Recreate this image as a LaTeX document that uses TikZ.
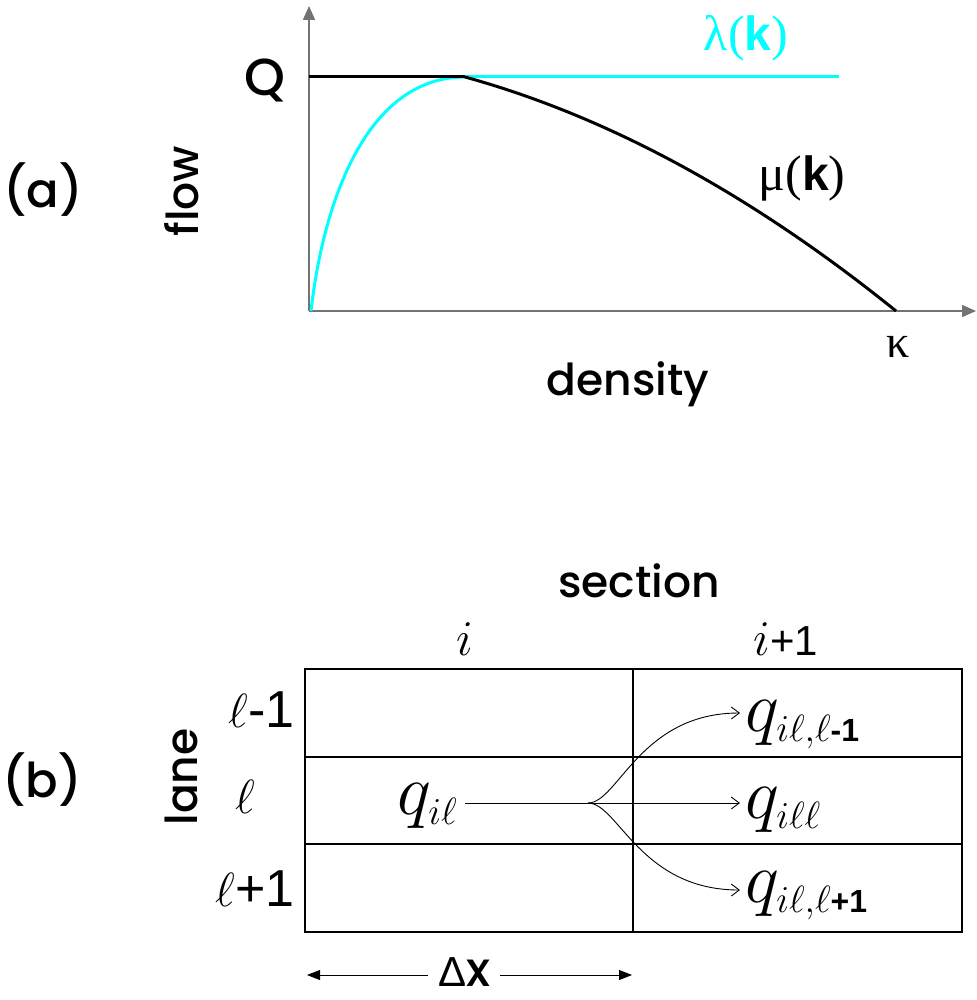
\RequirePackage{fix-cm}
\documentclass[tikz,border=0pt]{standalone}
\usepackage{fontspec}
\setmainfont{Poppins}[UprightFont={* Medium}]
\newfontfamily\arialf{Liberation Sans}
\newfontfamily\timesf{Liberation Serif}
\usetikzlibrary{arrows.meta}
\definecolor{cyanl}{RGB}{0,255,255}
\newcommand{\fs}[1]{\fontsize{#1}{#1}\selectfont}
\newcommand{\sub}[1]{\mbox{\fs{38}$#1$}}
\begin{document}
\begin{tikzpicture}[x=1pt,y=-1pt,
  word/.style={font=\fs{44}, inner sep=0pt},
  axisline/.style={draw=black!55, line width=1.6pt, -{Triangle[length=14pt,width=12pt]}},
  curveblack/.style={draw=black, line width=3pt},
  curvecyan/.style={draw=cyanl, line width=3pt},
  gridline/.style={draw=black, line width=1.3pt},
  flowarrow/.style={draw=black, line width=0.9pt, -{Straight Barb[length=8pt,width=12pt]}},
  dimarrow/.style={draw=black, line width=0.9pt, -{Triangle[length=13pt,width=10pt]}},
  qlabel/.style={inner sep=0pt, anchor=base west}]
\useasboundingbox (0,0) rectangle (976,1000);

% ---------- panel (a) ----------
\coordinate (O) at (309,311);
\coordinate (ytop) at (309,6);
\coordinate (xend) at (976,311);
\coordinate (peak) at (465,77);
\coordinate (qstart) at (309,77);
\coordinate (lamend) at (839,77);
\coordinate (kap) at (896,311);
\coordinate (lamstart) at (311,311);

\draw[axisline] (O) -- (ytop);
\draw[axisline] (O) -- (xend);
\draw[curvecyan] (peak) -- (lamend);
\draw[curvecyan] (lamstart) .. controls (323,205) and (365,77) .. (peak);
\draw[curveblack] (qstart) -- (peak);
\draw[curveblack] (peak) .. controls (608.7,116.7) and (752.3,195) .. (kap);

\node[font=\fs{48}, inner sep=0pt] (la) at (43,190) {(a)};
\node[word, rotate=90] (flow) at (182,191) {flow};
\node[font=\fs{52}, inner sep=0pt] (Q) at (265,80) {Q};
\node[inner sep=0pt, text=cyanl] (lam) at (746,38) {{\timesf\fs{50}λ(}{\arialf\bfseries\fs{48}k}{\timesf\fs{50})}};
\node[inner sep=0pt] (mu) at (802,178) {{\timesf\fs{50}μ(}{\arialf\bfseries\fs{48}k}{\timesf\fs{50})}};
\node[inner sep=0pt, font=\timesf\fs{46}] (kappa) at (898,347) {κ};
\node[word, anchor=base] (density) at (628,395) {density};

% ---------- panel (b) ----------
\node[word, anchor=base] (section) at (639,597) {section};
\node[inner sep=0pt, anchor=base] (ci) at (465,655) {\fs{50}$i$};
\node[inner sep=0pt, anchor=base] (cip) at (786,655) {\fs{50}$i${\arialf\fs{42}+1}};

\draw[gridline] (305,669) rectangle (962,932);
\draw[gridline] (305,757) -- (962,757);
\draw[gridline] (305,844) -- (962,844);
\draw[gridline] (633,669) -- (633,932);

\node[font=\fs{48}, inner sep=0pt] (lb) at (42,780) {(b)};
\node[word, rotate=90] (lane) at (181,777) {lane};
\node[inner sep=0pt, anchor=base east] (r1) at (295,727) {\fs{48}$\ell${\arialf\fs{52}-1}};
\node[inner sep=0pt, anchor=base] (r2) at (245,813) {\fs{48}$\ell$};
\node[inner sep=0pt, anchor=base east] (r3) at (295,906) {\fs{48}$\ell${\arialf\fs{52}+1}};

\node[qlabel] (qil) at (397,814) {\fs{72}$q_{\sub{i\ell}}$};
\node[qlabel] (qtop) at (745,731) {\fs{72}$q_{\sub{i\ell{,}\ell}\mbox{\arialf\bfseries\fs{32}-1}}$};
\node[qlabel] (qmid) at (745,818) {\fs{72}$q_{\sub{i\ell\ell}}$};
\node[qlabel] (qbot) at (745,902) {\fs{72}$q_{\sub{i\ell{,}\ell}\mbox{\arialf\bfseries\fs{32}+1}}$};

\coordinate (split) at (588,803);
\coordinate (ttop) at (740,713);
\coordinate (tmid) at (740,803);
\coordinate (tbot) at (740,890);
\draw[flowarrow] (qil.east |- split) ++(8,0) -- (tmid);
\draw[flowarrow] (split) .. controls (618,803) and (640,713) .. (ttop);
\draw[flowarrow] (split) .. controls (618,803) and (640,890) .. (tbot);

\node[inner sep=0pt, anchor=base] (dx) at (464,986) {{\arialf\fs{42}Δ}{\fs{48}x}};
\coordinate (dl) at (307,975);
\coordinate (dr) at (632,975);
\draw[dimarrow] (dx.west |- dl) ++(-10,0) -- (dl);
\draw[dimarrow] (dx.east |- dr) ++(10,0) -- (dr);
\end{tikzpicture}
\end{document}
